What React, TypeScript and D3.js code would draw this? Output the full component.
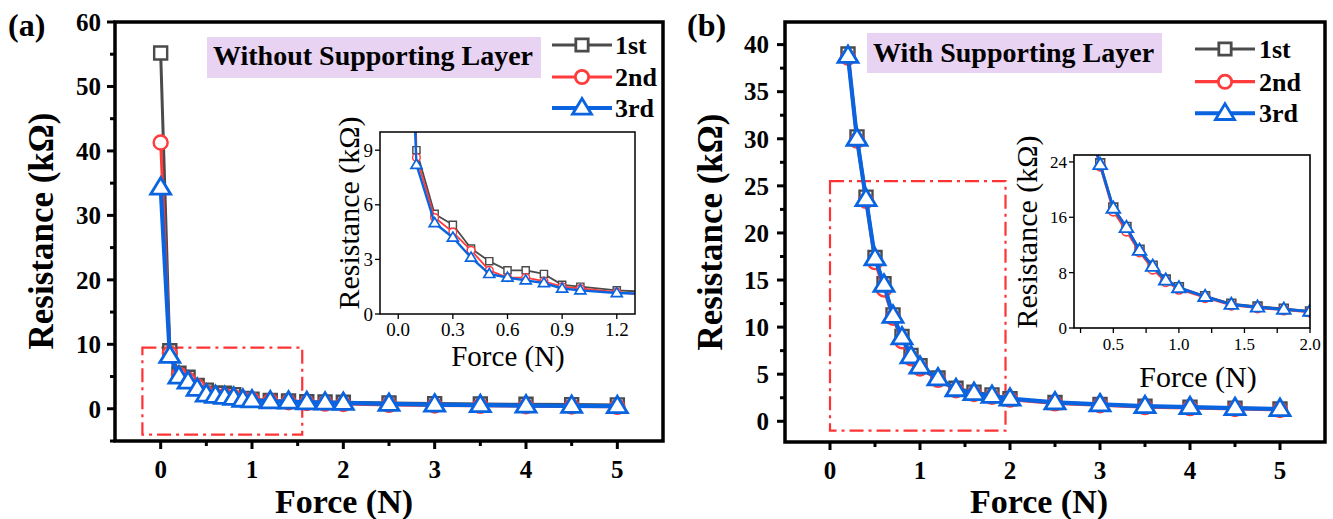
import React from 'react';
import * as d3 from 'd3';

// ---------- data ----------
const seriesNames = ['1st', '2nd', '3rd'];
const seriesColors = ['#4b4b4b', '#ff3b3b', '#0a64e0'];

const forceA = [0, 0.1, 0.2, 0.3, 0.4, 0.5, 0.6, 0.7, 0.8, 0.9, 1.0, 1.2, 1.4, 1.6, 1.8, 2.0, 2.5, 3.0, 3.5, 4.0, 4.5, 5.0];
const resA1st = [55.2, 9.0, 5.5, 4.9, 3.6, 2.9, 2.4, 2.4, 2.2, 1.6, 1.5, 1.3, 1.2, 1.1, 1.05, 1.0, 0.9, 0.8, 0.75, 0.7, 0.65, 0.6];
const resA2nd = [41.3, 8.6, 5.3, 4.5, 3.5, 2.4, 2.0, 2.0, 1.8, 1.5, 1.4, 1.2, 1.0, 0.9, 0.8, 0.75, 0.6, 0.5, 0.45, 0.4, 0.35, 0.3];
const resA3rd = [34.3, 8.2, 5.0, 4.2, 3.1, 2.2, 2.0, 1.85, 1.7, 1.4, 1.3, 1.15, 1.1, 1.0, 0.95, 0.9, 0.75, 0.65, 0.55, 0.5, 0.45, 0.4];

const forceB = [0.2, 0.3, 0.4, 0.5, 0.6, 0.7, 0.8, 0.9, 1.0, 1.2, 1.4, 1.6, 1.8, 2.0, 2.5, 3.0, 3.5, 4.0, 4.5, 5.0];
const resB1st = [39.0, 30.2, 23.8, 17.4, 14.6, 11.3, 9.0, 7.0, 5.9, 4.6, 3.5, 3.1, 2.8, 2.4, 2.0, 1.8, 1.6, 1.5, 1.4, 1.3];
const resB2nd = [38.6, 29.8, 23.4, 16.9, 14.0, 11.0, 8.5, 6.7, 5.6, 4.4, 3.3, 2.9, 2.6, 2.3, 1.9, 1.7, 1.5, 1.4, 1.3, 1.2];
const resB3rd = [38.8, 30.0, 23.6, 17.3, 14.5, 11.2, 8.9, 6.9, 5.8, 4.55, 3.4, 3.0, 2.7, 2.4, 2.0, 1.8, 1.6, 1.5, 1.4, 1.3];

const mainXTicks = [0, 1, 2, 3, 4, 5];
const mainXMinor = [0.5, 1.5, 2.5, 3.5, 4.5];
const yTicksA = [0, 10, 20, 30, 40, 50, 60];
const yMinorA = [-5, 5, 15, 25, 35, 45, 55];
const yTicksB = [0, 5, 10, 15, 20, 25, 30, 35, 40];
const yMinorB = [2.5, 7.5, 12.5, 17.5, 22.5, 27.5, 32.5, 37.5];

const insetAXTicks = [0, 0.3, 0.6, 0.9, 1.2];
const insetAYTicks = [0, 3, 6, 9];
const insetBXTicks = [0.5, 1.0, 1.5, 2.0];
const insetBXMinor = [0.25, 0.75, 1.25, 1.75];
const insetBYTicks = [0, 8, 16, 24];

const titleA = 'Without Supporting Layer';
const titleB = 'With Supporting Layer';
const zoomBoxA = [-0.2, 1.55, -4, 9.5];
const zoomBoxB = [0, 1.95, -1, 25.5];

// ---------- styling ----------
const FONT = 'Liberation Serif';
const RED_DASH = '#ff3333';

function markerPath(kind: number, s: number) {
  if (kind === 0) {
    const h = 6.5 * s;
    return `M${-h},${-h}H${h}V${h}H${-h}Z`;
  }
  if (kind === 1) {
    const r = 7 * s;
    return `M${r},0A${r},${r} 0 1,1 ${-r},0A${r},${r} 0 1,1 ${r},0Z`;
  }
  const w = 10 * s;
  return `M0,${-10 * s}L${w},${6.5 * s}L${-w},${6.5 * s}Z`;
}

type Series = number[];

function Curves({ xs, ys, x, y, s, lw, clipId }: { xs: number[]; ys: Series[]; x: any; y: any; s: number; lw: number[]; clipId: string }) {
  const line = d3.line<number>().x((_, i) => x(xs[i])).y((d) => y(d));
  return (
    <g clipPath={`url(#${clipId})`}>
      {ys.map((vals, k) => (
        <g key={k}>
          <path d={line(vals) || ''} fill="none" stroke={seriesColors[k]} strokeWidth={lw[k]} strokeLinejoin="round" />
          {vals.map((v, i) => (
            <path key={i} d={markerPath(k, s)} transform={`translate(${x(xs[i])},${y(v)})`} fill="#fff" stroke={seriesColors[k]} strokeWidth={k === 2 ? 2.8 * Math.max(s, 0.6) : 2.4 * Math.max(s, 0.6)} />
          ))}
        </g>
      ))}
    </g>
  );
}

function MainFrame({ x, y, xt, xm, yt, ym, ylabAnchor }: any) {
  const [x0, x1] = x.range();
  const [yb, yt0] = y.range();
  return (
    <g>
      <rect x={x0} y={yt0} width={x1 - x0} height={yb - yt0} fill="none" stroke="#000" strokeWidth={3.5} />
      {xt.map((t: number) => (
        <g key={'xt' + t}>
          <line x1={x(t)} x2={x(t)} y1={yb} y2={yb + 8} stroke="#000" strokeWidth={3} />
          <text x={x(t)} y={yb + 37} textAnchor="middle" fontFamily={FONT} fontWeight="bold" fontSize={25}>{t}</text>
        </g>
      ))}
      {xm.map((t: number) => (
        <line key={'xm' + t} x1={x(t)} x2={x(t)} y1={yb} y2={yb + 5} stroke="#000" strokeWidth={3} />
      ))}
      {yt.map((t: number) => (
        <g key={'yt' + t}>
          <line x1={x0} x2={x0 - 8} y1={y(t)} y2={y(t)} stroke="#000" strokeWidth={3} />
          <text x={ylabAnchor} y={y(t)} dy="0.35em" textAnchor="end" fontFamily={FONT} fontWeight="bold" fontSize={25}>{t}</text>
        </g>
      ))}
      {ym.map((t: number) => (
        <line key={'ym' + t} x1={x0} x2={x0 - 5} y1={y(t)} y2={y(t)} stroke="#000" strokeWidth={3} />
      ))}
    </g>
  );
}

function InsetFrame({ x, y, xt, xm, yt, fmt, fs, clipId }: any) {
  const [x0, x1] = x.range();
  const [yb, yt0] = y.range();
  return (
    <g>
      <defs>
        <clipPath id={clipId}>
          <rect x={x0} y={yt0} width={x1 - x0} height={yb - yt0} />
        </clipPath>
      </defs>
      <rect x={x0} y={yt0} width={x1 - x0} height={yb - yt0} fill="#fff" stroke="none" />
      {xt.map((t: number) => (
        <g key={'xt' + t}>
          <line x1={x(t)} x2={x(t)} y1={yb} y2={yb + 5} stroke="#000" strokeWidth={1.3} />
          <text x={x(t)} y={yb + 22} textAnchor="middle" fontFamily={FONT} fontSize={fs}>{fmt(t)}</text>
        </g>
      ))}
      {xm.map((t: number) => (
        <line key={'xm' + t} x1={x(t)} x2={x(t)} y1={yb} y2={yb + 5} stroke="#000" strokeWidth={1.3} />
      ))}
      {yt.map((t: number) => (
        <g key={'yt' + t}>
          <line x1={x0} x2={x0 - 5} y1={y(t)} y2={y(t)} stroke="#000" strokeWidth={1.3} />
          <text x={x0 - 7} y={y(t)} dy="0.35em" textAnchor="end" fontFamily={FONT} fontSize={fs}>{t}</text>
        </g>
      ))}
    </g>
  );
}

function Legend({ x0, rows, tx }: { x0: number; rows: number[]; tx: number }) {
  return (
    <g>
      {seriesNames.map((n, k) => (
        <g key={n}>
          <line x1={x0} x2={x0 + 60} y1={rows[k]} y2={rows[k]} stroke={seriesColors[k]} strokeWidth={k === 2 ? 4 : 3.2} />
          <path d={markerPath(k, 0.95)} transform={`translate(${x0 + 30},${rows[k]})`} fill="#fff" stroke={seriesColors[k]} strokeWidth={2.8} />
          <text x={tx} y={rows[k] + 9} fontFamily={FONT} fontWeight="bold" fontSize={26}>{n}</text>
        </g>
      ))}
    </g>
  );
}

export default function App() {
  // panel (a)
  const xA = d3.scaleLinear().domain([-0.5, 5.5]).range([115, 663]);
  const yA = d3.scaleLinear().domain([-5, 60]).range([441, 22]);
  const ixA = d3.scaleLinear().domain([-0.1, 1.3]).range([380, 635]);
  const iyA = d3.scaleLinear().domain([0, 10]).range([314, 132]);
  // panel (b)
  const xB = d3.scaleLinear().domain([-0.5, 5.5]).range([785, 1325]);
  const yB = d3.scaleLinear().domain([-2.2, 42.4]).range([442, 22]);
  const ixB = d3.scaleLinear().domain([0.2, 2.0]).range([1074, 1310]);
  const iyB = d3.scaleLinear().domain([0, 25]).range([328, 155]);

  const dataA = [resA1st, resA2nd, resA3rd];
  const dataB = [resB1st, resB2nd, resB3rd];
  const f1 = d3.format('.1f');

  const dashBox = (x: any, y: any, b: number[]) => (
    <rect x={x(b[0])} y={y(b[3])} width={x(b[1]) - x(b[0])} height={y(b[2]) - y(b[3])} fill="none" stroke={RED_DASH} strokeWidth={2.2} strokeDasharray="14 5 3 5" />
  );

  return (
    <svg width={1333} height={519} style={{ position: 'absolute', left: 0, top: 0, background: '#fff' }}>
      <rect x={0} y={0} width={1333} height={519} fill="#fff" />
      <defs>
        <clipPath id="clipA"><rect x={115} y={22} width={548} height={419} /></clipPath>
        <clipPath id="clipB"><rect x={785} y={22} width={540} height={420} /></clipPath>
      </defs>

      {/* ---------- panel (a) ---------- */}
      <text x={8} y={36} fontFamily={FONT} fontWeight="bold" fontSize={32}>(a)</text>
      {dashBox(xA, yA, zoomBoxA)}
      <Curves xs={forceA} ys={dataA} x={xA} y={yA} s={1} lw={[3, 3, 4.2]} clipId="clipA" />
      <MainFrame x={xA} y={yA} xt={mainXTicks} xm={mainXMinor} yt={yTicksA} ym={yMinorA} ylabAnchor={101} />
      <rect x={207} y={37} width={334} height={41} fill="#e8d3f2" />
      <text x={213} y={65} fontFamily={FONT} fontWeight="bold" fontSize={28}>{titleA}</text>
      <Legend x0={552} rows={[45, 77, 108]} tx={615} />
      <text transform={`translate(53,231) rotate(-90)`} textAnchor="middle" fontFamily={FONT} fontWeight="bold" fontSize={35}>Resistance (kΩ)</text>
      <text x={344} y={513} textAnchor="middle" fontFamily={FONT} fontWeight="bold" fontSize={34}>Force (N)</text>

      <InsetFrame x={ixA} y={iyA} xt={insetAXTicks} xm={[]} yt={insetAYTicks} fmt={f1} fs={19} clipId="clipIA" />
      <Curves xs={forceA} ys={dataA} x={ixA} y={iyA} s={0.55} lw={[1.8, 1.8, 2.4]} clipId="clipIA" />
      <rect x={380} y={132} width={255} height={182} fill="none" stroke="#000" strokeWidth={1.5} />
      <text transform={`translate(359,213) rotate(-90)`} textAnchor="middle" fontFamily={FONT} fontSize={30}>Resistance (kΩ)</text>
      <text x={508} y={366} textAnchor="middle" fontFamily={FONT} fontSize={29}>Force (N)</text>

      {/* ---------- panel (b) ---------- */}
      <text x={687} y={36} fontFamily={FONT} fontWeight="bold" fontSize={32}>(b)</text>
      {dashBox(xB, yB, zoomBoxB)}
      <Curves xs={forceB} ys={dataB} x={xB} y={yB} s={1} lw={[3, 3, 4.2]} clipId="clipB" />
      <MainFrame x={xB} y={yB} xt={mainXTicks} xm={mainXMinor} yt={yTicksB} ym={yMinorB} ylabAnchor={769} />
      <rect x={867} y={33} width={295} height={40} fill="#e8d3f2" />
      <text x={873} y={62} fontFamily={FONT} fontWeight="bold" fontSize={28}>{titleB}</text>
      <Legend x0={1195} rows={[49, 81.7, 113.3]} tx={1259} />
      <text transform={`translate(722,232) rotate(-90)`} textAnchor="middle" fontFamily={FONT} fontWeight="bold" fontSize={35}>Resistance (kΩ)</text>
      <text x={1039} y={513} textAnchor="middle" fontFamily={FONT} fontWeight="bold" fontSize={34}>Force (N)</text>

      <InsetFrame x={ixB} y={iyB} xt={insetBXTicks} xm={insetBXMinor} yt={insetBYTicks} fmt={f1} fs={17} clipId="clipIB" />
      <Curves xs={forceB} ys={dataB} x={ixB} y={iyB} s={0.68} lw={[2.2, 2.2, 2.8]} clipId="clipIB" />
      <rect x={1074} y={155} width={236} height={173} fill="none" stroke="#000" strokeWidth={1.6} />
      <text transform={`translate(1037,232) rotate(-90)`} textAnchor="middle" fontFamily={FONT} fontSize={30}>Resistance (kΩ)</text>
      <text x={1198} y={387} textAnchor="middle" fontFamily={FONT} fontSize={30}>Force (N)</text>
    </svg>
  );
}
